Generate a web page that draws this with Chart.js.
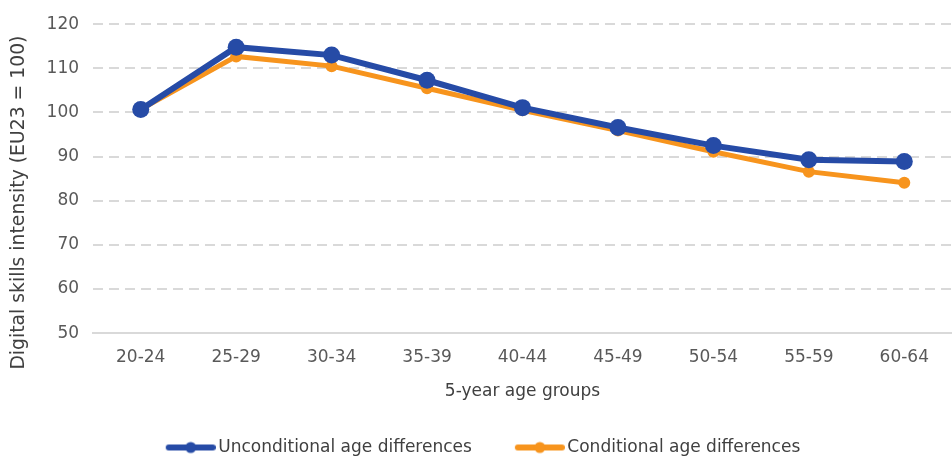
<!DOCTYPE html>
<html>
<head>
<meta charset="utf-8">
<script src="https://cdn.jsdelivr.net/npm/chart.js@4"></script>
<style>
  html, body { margin: 0; padding: 0; background: #ffffff; overflow: hidden; }
  #wrap { width: 952px; height: 457px; overflow: hidden; }
</style>
</head>
<body>
<div id="wrap"><canvas id="ageChart" width="952" height="466"></canvas></div>
<script>
/* ================= DATA ================= */
const ageGroups = ['20-24', '25-29', '30-34', '35-39', '40-44', '45-49', '50-54', '55-59', '60-64'];
const unconditional = [100.7, 114.8, 113.0, 107.3, 101.1, 96.6, 92.5, 89.3, 88.9];
const conditional = [100.7, 112.7, 110.5, 105.5, 100.5, 95.9, 91.1, 86.6, 84.1];
const yTicks = [50, 60, 70, 80, 90, 100, 110, 120];

const BLUE = '#264ba6';
const ORANGE = '#f7941d';
const FONT = "'DejaVu Sans', sans-serif";

/* ================= LEGEND SYMBOL (line with dot) ================= */
// image is wider than the legend box so the symbol touches the text
function legendSymbol(color) {
    const c = document.createElement('canvas');
    c.width = 62;
    c.height = 14;
    const g = c.getContext('2d');
    g.strokeStyle = color;
    g.lineWidth = 6;
    g.lineCap = 'round';
    g.beginPath();
    g.moveTo(15, 7);
    g.lineTo(59, 7);
    g.stroke();
    g.fillStyle = color;
    g.beginPath();
    g.arc(37, 7, 5.5, 0, Math.PI * 2);
    g.fill();
    return c;
}

/* ================= CHART ================= */
const ctx = document.getElementById('ageChart').getContext('2d');

const ageChart = new Chart(ctx, {
    type: 'line',
    data: {
        labels: ageGroups,
        datasets: [
            {
                label: 'Unconditional age differences',
                data: unconditional,
                borderColor: BLUE,
                backgroundColor: BLUE,
                borderWidth: 6,
                pointRadius: 8.5,
                pointHoverRadius: 8.5,
                pointBorderWidth: 0,
                pointStyle: 'circle',
                tension: 0
            },
            {
                label: 'Conditional age differences',
                data: conditional,
                borderColor: ORANGE,
                backgroundColor: ORANGE,
                borderWidth: 5,
                pointRadius: 6,
                pointHoverRadius: 6,
                pointBorderWidth: 0,
                pointStyle: 'circle',
                tension: 0
            }
        ]
    },
    options: {
        responsive: false,
        animation: false,
        layout: {
            autoPadding: false,
            padding: { top: 17, right: 0, bottom: 0, left: 8 }
        },
        plugins: {
            tooltip: { enabled: false },
            legend: {
                position: 'bottom',
                align: 'center',
                labels: {
                    usePointStyle: true,
                    pointStyleWidth: 50,
                    padding: 37,
                    color: '#404040',
                    font: { family: FONT, size: 17 },
                    generateLabels: chart => chart.data.datasets.map((ds, i) => ({
                        text: ds.label,
                        fontColor: '#404040',
                        pointStyle: legendSymbol(i === 0 ? BLUE : ORANGE),
                        datasetIndex: i,
                        hidden: false,
                        lineWidth: 0
                    }))
                }
            }
        },
        scales: {
            x: {
                offset: true,
                grid: { display: false, drawTicks: false },
                border: { display: true, color: '#d9d9d9', width: 2 },
                ticks: {
                    color: '#595959',
                    font: { family: FONT, size: 17 },
                    padding: 14,
                    maxRotation: 0
                },
                title: {
                    display: true,
                    text: '5-year age groups',
                    color: '#404040',
                    font: { family: FONT, size: 17 },
                    padding: { top: 0, bottom: 0 }
                }
            },
            y: {
                min: yTicks[0],
                max: yTicks[yTicks.length - 1],
                afterBuildTicks: axis => {
                    axis.ticks = yTicks.map(v => ({ value: v }));
                },
                grid: {
                    color: '#d9d9d9',
                    lineWidth: 2,
                    drawTicks: false
                },
                border: { display: false, dash: [10, 6] },
                ticks: {
                    color: '#595959',
                    font: { family: FONT, size: 17 },
                    padding: 14
                },
                title: {
                    display: true,
                    // trailing spaces push the title down a little, as in the original
                    text: 'Digital skills intensity (EU23 = 100)' + '\u00a0'.repeat(8),
                    color: '#404040',
                    font: { family: FONT, size: 18.8 },
                    padding: { top: 0, bottom: 2 }
                }
            }
        }
    }
});
</script>
</body>
</html>
